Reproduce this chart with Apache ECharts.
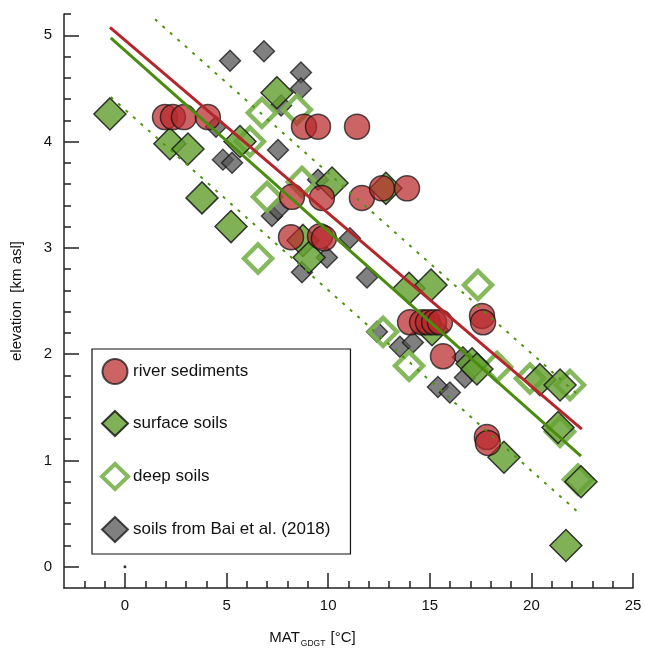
<!DOCTYPE html>
<html><head><meta charset="utf-8">
<script src="https://cdn.jsdelivr.net/npm/echarts@6/dist/echarts.min.js"></script>
<style>html,body{margin:0;padding:0;background:#fff;overflow:hidden}#c{width:645px;height:649px}</style>
</head><body><div id="c"></div>
<script>
// ---- data ----
const legendNames = ['river sediments', 'surface soils', 'deep soils', 'soils from Bai et al. (2018)'];

const riverSediments = [
  [1.97,4.23],[2.36,4.23],[2.90,4.23],[4.08,4.23],
  [8.81,4.14],[9.50,4.14],[11.42,4.14],
  [8.22,3.48],[9.69,3.47],[11.66,3.47],[12.65,3.56],[13.88,3.56],
  [8.17,3.10],[9.60,3.11],[9.79,3.09],
  [14.03,2.30],[14.62,2.30],[14.91,2.30],[15.21,2.30],[15.50,2.30],
  [17.57,2.36],[17.62,2.30],[15.65,1.98],[17.81,1.22],[17.86,1.165]
];
const surfaceSoils = [
  [-0.74,4.26],[2.21,3.98],[3.10,3.93],[3.79,3.47],[5.22,3.20],[5.66,4.00],
  [7.48,4.46],[10.19,3.61],[12.84,3.56],[8.76,3.07],[9.06,2.91],[13.98,2.62],
  [15.06,2.65],[15.11,2.23],[17.08,1.91],[17.32,1.86],[20.42,1.76],[21.41,1.71],
  [21.31,1.31],[18.65,1.03],[22.44,0.80],[21.70,0.20]
];
const deepSoils = [
  [6.74,4.27],[8.46,4.30],[6.15,4.00],[6.99,3.48],[8.71,3.62],[6.55,2.90],
  [12.70,2.21],[17.37,2.65],[13.98,1.89],[18.31,1.88],[19.93,1.77],[21.90,1.71],
  [21.41,1.27],[22.29,0.82]
];
const baiSoils = [
  [5.17,4.76],[6.84,4.85],[8.66,4.65],[8.66,4.50],[7.68,4.34],[4.48,4.14],
  [7.53,3.92],[4.82,3.83],[5.27,3.80],[7.23,3.30],[7.53,3.36],[8.71,2.77],
  [9.94,2.91],[11.07,3.09],[11.91,2.72],[9.50,3.64],[12.40,2.21],[13.53,2.07],
  [14.17,2.11],[15.40,1.69],[15.99,1.64],[16.73,1.78],[16.63,1.97]
];
const riverFit = [[-0.74,5.075],[22.48,1.294]];
const soilFit = [[-0.70,4.975],[22.44,1.04]];
const soilUpper = [[1.48,5.15],[22.43,1.595]];
const soilLower = [[-0.70,4.42],[22.44,0.489]];
const originMark = [[0,0]];

const xMajorTicks = [0,5,10,15,20,25];
const xMinorTicks = [-2,-1,0,1,2,3,4,5,6,7,8,9,10,11,12,13,14,15,16,17,18,19,20,21,22,23,24,25];
const yMajorTicks = [0,1,2,3,4,5];
const yMinorTicks = [0,0.2,0.4,0.6,0.8,1,1.2,1.4,1.6,1.8,2,2.2,2.4,2.6,2.8,3,3.2,3.4,3.6,3.8,4,4.2,4.4,4.6,4.8,5,5.2];

const FONT = "'Liberation Sans', Arial, sans-serif";
const axisCol = '#222';

const chart = echarts.init(document.getElementById('c'), null, {renderer: 'canvas'});
chart.setOption({
  animation: false,
  backgroundColor: '#fff',
  textStyle: {fontFamily: FONT},
  grid: {left: 64, right: 12, top: 14, bottom: 61, containLabel: false, outerBoundsMode: 'none'},
  xAxis: [{
    type: 'value', min: -3, max: 25, position: 'bottom',
    splitLine: {show: false},
    axisLine: {show: true, onZero: false, lineStyle: {color: axisCol, width: 1.5}},
    axisTick: {show: true, inside: true, length: 7, customValues: xMinorTicks, lineStyle: {color: axisCol, width: 1.5}},
    axisLabel: {customValues: xMajorTicks, fontSize: 15, color: '#111', margin: 10, fontFamily: FONT},
    name: '{a|MAT}{s|GDGT}{a| [°C]}',
    nameLocation: 'middle', nameGap: 40,
    nameTextStyle: {padding: [0, 72, 0, 0], rich: {
      a: {fontSize: 15, color: '#111', fontFamily: FONT, verticalAlign: 'middle'},
      s: {fontSize: 8.5, color: '#111', fontFamily: FONT, padding: [11, 1, 0, 1], verticalAlign: 'middle'}
    }}
  }, {
    type: 'value', min: -3, max: 25, position: 'bottom',
    splitLine: {show: false},
    axisLine: {show: false, onZero: false},
    axisTick: {show: true, inside: true, length: 15, customValues: xMajorTicks, lineStyle: {color: axisCol, width: 1.5}},
    axisLabel: {show: false}
  }],
  yAxis: [{
    type: 'value', min: -0.2, max: 5.2, position: 'left',
    splitLine: {show: false},
    axisLine: {show: true, onZero: false, lineStyle: {color: axisCol, width: 1.5}},
    axisTick: {show: true, inside: true, length: 7, customValues: yMinorTicks, lineStyle: {color: axisCol, width: 1.5}},
    axisLabel: {customValues: yMajorTicks, fontSize: 15, color: '#111', margin: 12, fontFamily: FONT},
    name: 'elevation  [km asl]', nameLocation: 'middle', nameGap: 40,
    nameTextStyle: {fontSize: 15, color: '#111', fontFamily: FONT}
  }, {
    type: 'value', min: -0.2, max: 5.2, position: 'left',
    splitLine: {show: false},
    axisLine: {show: false, onZero: false},
    axisTick: {show: true, inside: true, length: 15, customValues: yMajorTicks, lineStyle: {color: axisCol, width: 1.5}},
    axisLabel: {show: false}
  }],
  legend: {
    data: [
      {name: legendNames[0]},
      {name: legendNames[1]},
      {name: legendNames[2], itemStyle: {borderWidth: 4, borderColor: '#7cb350', color: '#fff'}},
      {name: legendNames[3]}
    ],
    orient: 'vertical', left: 92, top: 349,
    itemWidth: 26, itemHeight: 25, itemGap: 25,
    padding: [9, 20, 11, 8],
    borderColor: '#111', borderWidth: 1.2, borderRadius: 0,
    backgroundColor: '#fff',
    selectedMode: false,
    textStyle: {fontSize: 17, color: '#111', fontFamily: FONT, padding: [0, 0, 0, 0]}
  },
  series: [
    {name: legendNames[3], type: 'scatter', data: baiSoils, symbol: 'diamond', symbolSize: 21,
     itemStyle: {color: '#555', opacity: 0.75, borderColor: '#111', borderWidth: 1.4}},
    {type: 'line', data: soilUpper, symbol: 'none', silent: true,
     lineStyle: {color: '#4f9410', width: 2, type: [3, 7]}},
    {type: 'line', data: soilLower, symbol: 'none', silent: true,
     lineStyle: {color: '#4f9410', width: 2, type: [3, 7]}},
    {type: 'line', data: riverFit, symbol: 'none', silent: true,
     lineStyle: {color: '#b5262a', width: 3}},
    {type: 'line', data: soilFit, symbol: 'none', silent: true,
     lineStyle: {color: '#4a8c10', width: 3}},
    {name: legendNames[2], type: 'scatter', data: deepSoils, symbol: 'diamond', symbolSize: 28,
     itemStyle: {color: 'rgba(255,255,255,0)', borderColor: '#7cb350', borderWidth: 4.5, opacity: 0.92}},
    {name: legendNames[1], type: 'scatter', data: surfaceSoils, symbol: 'diamond', symbolSize: 32,
     itemStyle: {color: '#64a032', opacity: 0.82, borderColor: '#111', borderWidth: 1.5}},
    {name: legendNames[0], type: 'scatter', data: riverSediments, symbol: 'circle', symbolSize: 25,
     itemStyle: {color: '#b9282b', opacity: 0.72, borderColor: '#111', borderWidth: 1.5}},
    {type: 'scatter', data: originMark, symbol: 'circle', symbolSize: 3, silent: true,
     itemStyle: {color: '#000'}}
  ]
});
</script></body></html>
